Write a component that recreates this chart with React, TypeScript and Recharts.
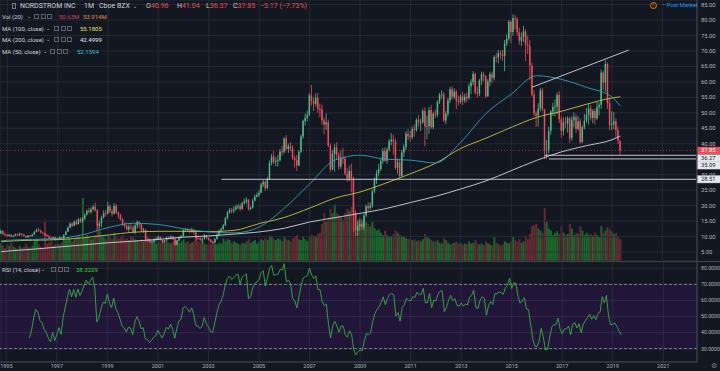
import React from "react";
import {
  ComposedChart, Bar, Line, XAxis, YAxis, CartesianGrid,
  ReferenceLine, ReferenceArea, Cell,
} from "recharts";

// ---- palette (TradingView dark) ----
const BG = "#131722";
const GRID = "#2a2e39";
const UP = "#53b987";
const DOWN = "#eb4d5c";
const VOL_UP = "#1d6a2c";
const VOL_DOWN = "#6b2934";
const MA50_C = "#2fa3b3";
const MA100_C = "#c4c43d";
const MA200_C = "#d1d4dc";
const RSI_C = "#3aad48";
const TXT = "#b2b5be";

const W = 720;
const AXIS_W = 23;
const MAIN_H = 261;

// monthly slots: Oct 1994 .. May 2022 (empty future space on the right)
const START_YEAR = 1994;
const START_MONTH = 9;
const N_SLOTS = 332;

// ---- monthly candles, Oct 1994 .. May 2019 ----
const firstOpen = 11.0;
const closes = [
  11.8, 10.8, 10.5,
  10.2, 10.6, 10.0, 10.3, 10.8, 10.4, 10.9, 10.6, 10.2, 9.7, 10.3, 10.1,
  10.6, 11.5, 12.2, 12.0, 11.3, 11.1, 10.5, 10.2, 9.6, 9.2, 9.8, 8.9,
  9.3, 9.8, 9.1, 10.5, 11.6, 12.9, 14.2, 13.5, 14.8, 14.0, 15.6, 14.9,
  15.8, 17.1, 18.3, 17.9, 18.8, 19.6, 18.5, 13.5, 14.3, 16.2, 17.6, 17.4,
  19.8, 18.2, 17.4, 19.9, 17.8, 17.0, 15.6, 13.9, 13.4, 12.3, 13.2, 13.0,
  11.4, 13.6, 14.8, 13.9, 12.0, 12.2, 9.2, 9.0, 8.1, 8.4, 8.9, 9.1,
  9.9, 9.0, 8.2, 8.8, 9.7, 9.3, 10.0, 9.1, 7.3, 8.7, 9.8, 10.1,
  12.1, 12.3, 12.0, 11.5, 12.2, 11.3, 9.5, 9.4, 9.0, 9.3, 10.4, 9.5,
  9.0, 8.2, 8.1, 9.2, 10.5, 11.8, 12.4, 13.6, 15.9, 17.8, 18.6, 18.2,
  18.8, 19.6, 19.9, 18.9, 20.8, 21.3, 21.9, 18.9, 19.3, 21.6, 22.9, 23.4,
  24.2, 26.8, 27.7, 25.6, 28.6, 33.8, 35.9, 34.2, 34.4, 34.7, 37.5, 37.4,
  41.7, 38.3, 39.2, 38.5, 35.3, 34.7, 33.0, 37.4, 42.3, 47.3, 48.4, 49.3,
  55.6, 53.8, 52.9, 54.9, 51.2, 51.1, 47.6, 46.2, 46.9, 39.4, 31.7, 36.7,
  38.8, 36.3, 32.6, 35.3, 35.2, 30.3, 28.7, 31.2, 28.8, 17.6, 12.0, 13.3,
  14.0, 13.1, 16.8, 19.8, 19.2, 19.9, 24.6, 28.3, 30.5, 31.8, 34.4, 37.6,
  34.5, 38.1, 40.8, 41.3, 40.8, 32.2, 34.0, 29.6, 37.2, 38.9, 43.2, 42.4,
  42.1, 44.7, 44.4, 47.7, 46.9, 46.9, 50.6, 45.6, 45.7, 50.9, 45.3, 49.7,
  49.4, 53.6, 55.7, 55.9, 47.5, 49.7, 54.0, 57.6, 55.2, 56.8, 53.9, 53.5,
  55.3, 54.0, 55.2, 54.8, 58.6, 59.9, 62.6, 56.5, 56.2, 60.4, 62.4, 61.8,
  55.3, 60.1, 62.5, 61.3, 68.0, 67.9, 69.2, 68.9, 68.4, 72.3, 74.0, 79.4,
  76.1, 80.6, 80.3, 76.0, 73.3, 74.5, 76.3, 72.0, 71.7, 65.2, 55.9, 49.8,
  49.1, 51.4, 57.2, 51.1, 37.9, 38.1, 44.2, 50.4, 51.9, 52.0, 55.8, 47.9,
  44.2, 46.9, 46.6, 48.3, 41.8, 47.8, 48.6, 44.8, 47.2, 40.5, 45.4, 47.4,
  49.3, 51.4, 48.4, 50.6, 48.2, 51.8, 52.6, 63.0, 59.8, 65.8, 53.1, 46.1,
  46.4, 47.3, 44.4, 41.02, 37.85,
];
const highs = [
  12.3, 12.0, 11.2,
  10.9, 10.8, 10.7, 10.5, 11.0, 11.0, 11.3, 11.1, 10.9, 10.4, 10.5, 10.6,
  10.9, 11.8, 12.6, 12.8, 12.2, 11.6, 11.3, 10.8, 10.4, 9.8, 10.0, 10.0,
  9.6, 10.1, 10.0, 10.8, 11.9, 13.3, 14.6, 14.5, 15.2, 15.4, 16.0, 16.2,
  16.3, 17.5, 18.8, 19.3, 19.4, 20.2, 21.0, 18.9, 15.2, 16.8, 18.5, 18.6,
  21.2, 20.3, 19.0, 20.8, 20.5, 18.2, 17.4, 16.0, 14.6, 13.9, 13.9, 14.5,
  13.5, 14.3, 15.2, 15.0, 14.1, 12.8, 12.4, 9.8, 9.4, 8.9, 9.5, 9.9,
  10.3, 10.0, 9.1, 9.0, 10.0, 10.1, 10.4, 10.2, 9.4, 8.9, 10.1, 10.6,
  12.4, 12.7, 12.8, 12.5, 12.9, 12.4, 11.5, 10.2, 9.8, 9.6, 10.8, 10.5,
  9.8, 9.2, 8.6, 9.5, 10.9, 12.2, 12.9, 14.0, 16.4, 18.3, 19.3, 19.2,
  19.8, 20.3, 20.5, 20.6, 21.3, 22.3, 22.7, 22.1, 19.8, 22.2, 23.6, 24.2,
  25.0, 27.4, 28.3, 28.1, 29.3, 34.6, 36.7, 37.6, 35.6, 36.4, 38.3, 39.2,
  42.1, 42.8, 40.1, 40.6, 39.5, 36.2, 36.4, 38.0, 43.0, 47.8, 49.8, 50.8,
  56.4, 59.0, 55.0, 56.3, 56.5, 53.0, 52.7, 48.5, 49.8, 47.8, 40.1, 37.9,
  39.9, 40.5, 37.2, 37.9, 38.7, 35.8, 32.1, 33.0, 33.6, 29.4, 18.5, 14.9,
  15.6, 15.5, 17.5, 20.4, 21.2, 21.0, 25.2, 29.0, 31.5, 33.5, 35.2, 38.6,
  38.9, 38.8, 41.5, 43.4, 43.0, 41.7, 35.3, 35.2, 38.0, 39.8, 44.0, 44.8,
  44.1, 45.6, 46.3, 48.2, 49.3, 48.1, 51.4, 51.8, 49.1, 51.9, 52.6, 50.4,
  51.1, 54.0, 56.4, 57.3, 56.7, 50.6, 54.8, 58.4, 58.6, 58.0, 57.3, 55.6,
  56.0, 56.8, 56.2, 56.6, 59.5, 60.9, 63.5, 62.9, 58.4, 61.0, 63.3, 63.2,
  62.2, 60.9, 63.1, 63.4, 68.6, 69.3, 70.3, 70.1, 70.3, 73.6, 75.4, 80.0,
  79.9, 81.8, 81.5, 80.9, 77.5, 76.0, 78.1, 77.0, 74.9, 73.6, 66.2, 57.3,
  50.5, 53.1, 58.1, 58.0, 51.3, 41.3, 45.5, 50.9, 53.3, 54.3, 56.6, 57.0,
  48.8, 48.5, 48.6, 48.9, 48.7, 49.0, 50.1, 49.5, 49.0, 48.1, 45.9, 49.7,
  51.6, 53.0, 52.5, 51.2, 51.4, 53.5, 53.4, 64.0, 63.6, 67.0, 66.3, 54.8,
  50.5, 50.2, 48.3, 45.6, 41.04,
];
const lows = [
  10.8, 10.5, 10.2,
  9.9, 10.0, 9.8, 9.7, 10.1, 10.2, 10.3, 10.3, 10.0, 9.5, 9.6, 9.8,
  9.9, 10.5, 11.3, 11.6, 11.0, 10.8, 10.0, 9.9, 9.3, 8.9, 9.0, 8.7,
  8.8, 9.1, 8.9, 9.0, 10.4, 11.5, 12.7, 13.0, 13.3, 13.6, 13.9, 14.4,
  14.5, 15.4, 16.8, 17.5, 17.4, 18.4, 18.0, 12.0, 12.4, 13.0, 15.8, 16.5,
  17.2, 17.6, 16.5, 17.2, 17.3, 15.8, 15.2, 13.5, 12.8, 11.9, 11.5, 12.1,
  11.0, 10.8, 12.5, 12.8, 11.5, 11.2, 8.3, 8.2, 7.9, 7.8, 8.0, 8.5,
  8.9, 8.7, 7.9, 7.8, 8.6, 9.0, 9.1, 8.9, 7.0, 7.2, 8.5, 9.4,
  9.9, 11.5, 11.6, 11.0, 11.3, 10.6, 8.5, 8.9, 8.4, 7.8, 9.0, 9.1,
  8.6, 7.9, 7.6, 7.9, 9.0, 10.3, 11.4, 12.2, 13.4, 15.6, 17.4, 17.5,
  17.6, 18.5, 18.9, 18.2, 18.6, 20.4, 20.6, 18.4, 18.5, 19.1, 21.4, 22.6,
  22.9, 24.0, 26.0, 24.8, 25.3, 28.3, 33.0, 33.5, 32.8, 32.6, 34.2, 36.1,
  36.8, 37.9, 37.0, 37.6, 34.8, 32.3, 31.2, 32.8, 37.0, 41.6, 45.9, 47.2,
  49.0, 52.3, 50.6, 52.1, 50.0, 48.5, 46.2, 43.0, 44.5, 38.9, 30.8, 31.5,
  31.0, 34.9, 31.5, 31.9, 33.5, 29.8, 27.6, 27.9, 24.3, 11.4, 10.1, 10.2,
  11.9, 12.2, 12.1, 16.2, 18.0, 18.6, 19.3, 24.0, 27.0, 29.4, 31.2, 33.5,
  34.2, 33.5, 37.5, 39.5, 36.5, 31.6, 30.3, 28.8, 29.3, 35.8, 38.0, 41.2,
  40.6, 41.5, 42.3, 43.9, 45.5, 44.1, 46.5, 39.2, 41.5, 43.2, 44.8, 44.6,
  48.3, 48.6, 52.8, 54.5, 47.0, 46.3, 48.8, 53.1, 54.2, 54.5, 51.1, 52.4,
  52.9, 52.5, 53.2, 53.4, 54.2, 56.0, 59.0, 55.9, 54.9, 55.4, 59.0, 60.1,
  54.9, 55.5, 58.6, 59.5, 60.5, 66.3, 66.0, 67.4, 66.8, 63.5, 71.6, 73.4,
  72.5, 75.0, 77.0, 74.9, 72.0, 71.6, 72.9, 66.7, 69.0, 60.7, 55.3, 48.9,
  45.4, 45.6, 50.4, 50.5, 35.0, 35.1, 36.9, 42.9, 49.0, 48.9, 49.6, 46.7,
  42.0, 42.7, 45.0, 43.6, 40.3, 41.0, 45.3, 43.5, 44.3, 40.0, 40.2, 44.6,
  46.8, 46.1, 47.6, 46.6, 46.2, 47.7, 49.2, 51.3, 57.4, 56.8, 51.2, 44.4,
  44.4, 44.7, 42.0, 39.9, 36.37,
];
// monthly volume, millions of shares
const volumes = [
  40, 35, 30,
  38, 35, 42, 33, 30, 28, 35, 30, 33, 40, 32, 30,
  35, 45, 50, 38, 33, 30, 90, 40, 42, 45, 35, 40,
  40, 38, 42, 48, 50, 55, 52, 45, 50, 55, 60, 50,
  145, 55, 60, 58, 50, 52, 60, 85, 70, 60, 55, 50,
  60, 55, 50, 65, 58, 52, 55, 60, 50, 52, 48, 55,
  55, 50, 48, 45, 50, 45, 60, 50, 45, 42, 45, 40,
  45, 42, 48, 40, 45, 42, 40, 45, 55, 48, 42, 45,
  50, 42, 45, 40, 42, 45, 55, 45, 42, 48, 40, 38,
  40, 38, 45, 40, 38, 42, 40, 52, 45, 50, 48, 40,
  45, 42, 40, 38, 42, 40, 45, 50, 42, 45, 48, 40,
  45, 50, 48, 52, 48, 58, 55, 50, 48, 52, 50, 45,
  55, 50, 48, 45, 52, 55, 60, 50, 48, 55, 50, 45,
  55, 60, 58, 55, 62, 65, 85, 110, 90, 100, 120, 110,
  130, 110, 105, 100, 95, 110, 120, 115, 125, 135, 110, 95,
  100, 90, 95, 90, 85, 80, 90, 75, 70, 72, 65, 60,
  70, 60, 55, 58, 62, 70, 65, 60, 58, 55, 52, 50,
  52, 48, 50, 45, 48, 45, 50, 62, 55, 52, 48, 45,
  45, 48, 42, 40, 52, 48, 42, 38, 40, 42, 45, 40,
  42, 38, 40, 38, 45, 40, 42, 48, 40, 38, 40, 36,
  45, 40, 38, 36, 55, 42, 38, 36, 38, 45, 42, 40,
  45, 55, 48, 45, 50, 42, 45, 58, 50, 62, 80, 82,
  85, 75, 70, 65, 122, 90, 75, 70, 60, 65, 68, 62,
  80, 65, 60, 62, 85, 75, 60, 65, 62, 80, 70, 60,
  65, 60, 62, 58, 65, 60, 55, 80, 65, 70, 78, 72,
  68, 62, 65, 55, 50.63,
];

// moving averages
const maDates = [
  "1994-10", "1995-01", "1996-01", "1997-01", "1998-01", "1999-01", "2000-01",
  "2001-01", "2002-01", "2003-01", "2004-01", "2005-01", "2006-01", "2007-01",
  "2008-01", "2009-01", "2010-01", "2011-01", "2012-01", "2013-01", "2014-01",
  "2015-01", "2016-01", "2017-01", "2018-01", "2019-01", "2019-05",
];
const ma50Vals = [
  8.6, 8.8, 9.1, 9.4, 10.6, 12.9, 14.3, 13.9, 12.5, 11.5, 11.2, 13.1, 19.2, 27.0,
  34.7, 36.3, 35.0, 34.7, 33.8, 40.5, 49.8, 56.0, 62.0, 60.8, 58.2, 55.1, 52.16,
];
const ma100Vals = [
  8.3, 8.5, 8.8, 9.0, 9.6, 10.5, 11.4, 11.7, 11.7, 11.6, 12.0, 14.2, 16.2, 19.2,
  22.4, 24.4, 27.2, 30.3, 33.7, 38.5, 41.8, 45.3, 48.5, 50.5, 52.8, 54.8, 55.18,
];
const ma200Vals = [
  5.1, 5.3, 5.9, 6.6, 7.3, 8.0, 8.5, 9.1, 9.8, 10.2, 10.8, 11.5, 12.7, 14.7,
  16.1, 17.5, 19.0, 21.0, 23.0, 25.4, 28.0, 31.3, 34.6, 37.4, 39.4, 41.3, 42.5,
];

const yearTicks = [
  "1995-01", "1997-01", "1999-01", "2001-01", "2003-01", "2005-01", "2007-01",
  "2009-01", "2011-01", "2013-01", "2015-01", "2017-01", "2019-01", "2021-01",
];
const priceTicks = [5, 10, 15, 20, 25, 30, 40, 45, 50, 55, 60, 65, 70, 75, 80, 85];
const rsiTicks = [30, 40, 50, 60, 70, 80];

// RSI(14) on the monthly closes, Wilder smoothing
function rsi14(cl: number[]) {
  const out: (number | null)[] = cl.map(() => null);
  let g = 0, l = 0;
  for (let i = 1; i <= 14; i++) {
    const d = cl[i] - cl[i - 1];
    g += Math.max(d, 0); l += Math.max(-d, 0);
  }
  g /= 14; l /= 14;
  out[14] = 100 - 100 / (1 + g / l);
  for (let i = 15; i < cl.length; i++) {
    const d = cl[i] - cl[i - 1];
    g = (g * 13 + Math.max(d, 0)) / 14;
    l = (l * 13 + Math.max(-d, 0)) / 14;
    out[i] = l === 0 ? 100 : 100 - 100 / (1 + g / l);
  }
  return out;
}

const months = Array.from({ length: N_SLOTS }, (_, i) => {
  const m = START_MONTH + i;
  return `${START_YEAR + Math.floor(m / 12)}-${String((m % 12) + 1).padStart(2, "0")}`;
});
const rsiVals = rsi14(closes);
const maIndex = new Map(maDates.map((d, k) => [d, k]));

const data = months.map((t, i) => {
  const row: any = { t };
  if (i < closes.length) {
    const o = i === 0 ? firstOpen : closes[i - 1];
    const c = closes[i];
    const h = Math.max(highs[i], o, c);
    const l = Math.min(lows[i], o, c);
    Object.assign(row, { o, h, l, c, range: [l, h], vol: volumes[i], up: c >= o, rsi: rsiVals[i] });
  }
  const k = maIndex.get(t);
  if (k !== undefined) {
    row.ma50 = ma50Vals[k];
    row.ma100 = ma100Vals[k];
    row.ma200 = ma200Vals[k];
  }
  return row;
});
const lastSlot = months[N_SLOTS - 1];

// eslint-disable-next-line @typescript-eslint/no-explicit-any
function Candle(props: any) {
  const { x, y, width, height, payload } = props;
  if (!payload || payload.h == null) return null;
  const { o, h, l, c } = payload;
  const top = height < 0 ? y + height : y;
  const hh = Math.abs(height);
  const ppu = hh / Math.max(h - l, 1e-6);
  const bTop = top + (h - Math.max(o, c)) * ppu;
  const bBot = top + (h - Math.min(o, c)) * ppu;
  const color = c >= o ? UP : DOWN;
  const cx = x + width / 2;
  return (
    <g>
      <line x1={cx} x2={cx} y1={top} y2={top + hh} stroke={color} strokeWidth={0.8} />
      <rect x={x} y={bTop} width={width} height={Math.max(bBot - bTop, 0.8)} fill={color} />
    </g>
  );
}

// eslint-disable-next-line @typescript-eslint/no-explicit-any
function PriceTag(props: any) {
  const { viewBox, text, bg, fg, dy = 0 } = props;
  if (!viewBox) return null;
  const y = viewBox.y + dy;
  return (
    <g>
      <rect x={W - AXIS_W} y={y - 3.6} width={AXIS_W} height={7.2} fill={bg} stroke={fg === "#fff" ? "none" : "#d1d4dc"} strokeWidth={0.5} />
      <text x={W - AXIS_W + 4} y={y + 2} fontSize={5.8} fill={fg}>{text}</text>
    </g>
  );
}

function Boxes({ x }: { x: number }) {
  return (
    <span style={{ position: "absolute", left: x, top: 1, display: "flex", gap: 1.5 }}>
      {[0, 1, 2].map((k) => (
        <span key={k} style={{ width: 5, height: 5, border: "1px solid #5d606b", boxSizing: "border-box", display: "inline-block" }} />
      ))}
    </span>
  );
}

function LegendRow({ top, label, chev, boxes, value, color, x }: {
  top: number; label: string; chev: number; boxes: number; value: string; color: string; x: number;
}) {
  return (
    <div style={{ position: "absolute", left: 0, top, height: 8, width: 200, fontSize: 6, lineHeight: "7px", color: "#d1d4dc" }}>
      <span style={{ position: "absolute", left: 2 }}>{label}</span>
      <span style={{ position: "absolute", left: chev, fontSize: 5 }}>⌄</span>
      <Boxes x={boxes} />
      <span style={{ position: "absolute", left: x, color }}>{value}</span>
    </div>
  );
}

export default function App() {
  const xAxisHidden = (
    <XAxis dataKey="t" hide ticks={yearTicks} interval={0} />
  );
  return (
    <div style={{
      position: "fixed", left: 0, top: 0, width: W, height: 371, background: BG,
      overflow: "hidden", fontFamily: "Roboto, 'Open Sans', sans-serif",
    }}>
      {/* volume layer */}
      <div style={{ position: "absolute", left: 0, top: 0 }}>
        <ComposedChart width={W} height={MAIN_H} data={data} margin={{ top: 0, right: AXIS_W, bottom: 0, left: 0 }}>
          {xAxisHidden}
          <YAxis yAxisId="v" hide domain={[0, 600]} />
          <Bar yAxisId="v" dataKey="vol" barSize={1.9} isAnimationActive={false}>
            {data.map((d, i) => (
              <Cell key={i} fill={d.up ? VOL_UP : VOL_DOWN} />
            ))}
          </Bar>
        </ComposedChart>
      </div>

      {/* price layer */}
      <div style={{ position: "absolute", left: 0, top: 0 }}>
        <ComposedChart width={W} height={MAIN_H} data={data} margin={{ top: 0, right: 0, bottom: 0, left: 0 }}>
          <CartesianGrid stroke={GRID} strokeWidth={0.8} />
          {xAxisHidden}
          <YAxis
            orientation="right" width={AXIS_W} domain={[2.1, 86.47]} allowDataOverflow
            ticks={priceTicks} interval={0} tickFormatter={(v: number) => v.toFixed(2)}
            tickLine={false} tickSize={0} tickMargin={4}
            axisLine={{ stroke: "#434651" }} tick={{ fontSize: 5.8, fill: TXT }}
          />
          <Bar dataKey="range" barSize={1.5} shape={Candle} activeBar={false} isAnimationActive={false} />
          <Line dataKey="ma100" stroke={MA100_C} strokeWidth={0.9} dot={false} activeDot={false} type="monotone" connectNulls isAnimationActive={false} />
          <Line dataKey="ma200" stroke={MA200_C} strokeWidth={0.9} dot={false} activeDot={false} type="monotone" connectNulls isAnimationActive={false} />
          <Line dataKey="ma50" stroke={MA50_C} strokeWidth={0.9} dot={false} activeDot={false} type="monotone" connectNulls isAnimationActive={false} />
          <ReferenceLine
            segment={[{ x: "2015-11", y: 58.3 }, { x: "2019-09", y: 70.3 }]}
            stroke="#d1d4dc" strokeWidth={0.9}
          />
          <ReferenceLine
            segment={[{ x: "2003-07", y: 28.51 }, { x: lastSlot, y: 28.51 }]}
            stroke="#d1d4dc" strokeWidth={0.9}
            label={<PriceTag text="28.51" bg="#e8e9ec" fg="#131722" />}
          />
          <ReferenceLine
            segment={[{ x: "2016-05", y: 36.27 }, { x: lastSlot, y: 36.27 }]}
            stroke="#d1d4dc" strokeWidth={0.9}
            label={<PriceTag text="36.27" bg="#e8e9ec" fg="#131722" dy={3} />}
          />
          <ReferenceLine
            segment={[{ x: "2016-07", y: 35.09 }, { x: lastSlot, y: 35.09 }]}
            stroke="#d1d4dc" strokeWidth={0.9}
            label={<PriceTag text="35.09" bg="#e8e9ec" fg="#131722" dy={6.5} />}
          />
          <ReferenceLine
            y={37.85} stroke={DOWN} strokeOpacity={0.8} strokeDasharray="1 2" strokeWidth={0.8}
            label={<PriceTag text="37.85" bg={DOWN} fg="#fff" />}
          />
        </ComposedChart>
      </div>

      {/* pane separator */}
      <div style={{ position: "absolute", left: 0, top: MAIN_H, width: W, height: 1, background: "#434651" }} />

      {/* RSI pane + time axis */}
      <div style={{ position: "absolute", left: 0, top: MAIN_H }}>
        <ComposedChart width={W} height={110} data={data} margin={{ top: 1, right: 0, bottom: 0, left: 0 }}>
          <CartesianGrid stroke={GRID} strokeWidth={0.8} />
          <XAxis
            dataKey="t" ticks={yearTicks} interval={0} height={9}
            tickFormatter={(v: string) => v.slice(0, 4)}
            tickLine={false} tickSize={0} tickMargin={2}
            axisLine={{ stroke: "#434651" }} tick={{ fontSize: 5.5, fill: TXT }}
          />
          <YAxis
            orientation="right" width={AXIS_W} domain={[21.7, 83.9]} allowDataOverflow
            ticks={rsiTicks} interval={0} tickFormatter={(v: number) => v.toFixed(4)}
            tickLine={false} tickSize={0} tickMargin={4}
            axisLine={{ stroke: "#434651" }} tick={{ fontSize: 5.2, fill: TXT }}
          />
          <ReferenceArea y1={30} y2={70} fill="#9915ff" fillOpacity={0.1} stroke="none" />
          <ReferenceLine y={70} stroke="#9598a1" strokeDasharray="3 2" strokeWidth={0.8} />
          <ReferenceLine y={30} stroke="#9598a1" strokeDasharray="3 2" strokeWidth={0.8} />
          <Line dataKey="rsi" stroke={RSI_C} strokeWidth={0.9} dot={false} activeDot={false} isAnimationActive={false} />
        </ComposedChart>
      </div>

      {/* legends */}
      <div style={{ position: "absolute", left: 0, top: 2, height: 9, width: 320, fontSize: 7, lineHeight: "8px", color: "#d1d4dc" }}>
        <span style={{ position: "absolute", left: 12, top: 1, width: 4, height: 6, border: "1px solid #787b86", boxSizing: "border-box" }} />
        <span style={{ position: "absolute", left: 20 }}>NORDSTROM INC</span>
        <span style={{ position: "absolute", left: 84 }}>1M</span>
        <span style={{ position: "absolute", left: 99 }}>Cboe BZX</span>
        <span style={{ position: "absolute", left: 133, fontSize: 5 }}>⌄</span>
        <span style={{ position: "absolute", left: 146 }}>O<span style={{ color: DOWN }}>40.96</span></span>
        <span style={{ position: "absolute", left: 177 }}>H<span style={{ color: DOWN }}>41.04</span></span>
        <span style={{ position: "absolute", left: 206 }}>L<span style={{ color: DOWN }}>36.37</span></span>
        <span style={{ position: "absolute", left: 233 }}>C<span style={{ color: DOWN }}>37.85</span></span>
        <span style={{ position: "absolute", left: 260, color: DOWN }}>−3.17 (−7.73%)</span>
      </div>
      <div style={{ position: "absolute", left: 0, top: 13, height: 8, width: 200, fontSize: 6, lineHeight: "7px", color: "#d1d4dc" }}>
        <span style={{ position: "absolute", left: 2 }}>Vol (20)</span>
        <span style={{ position: "absolute", left: 27, fontSize: 5 }}>⌄</span>
        <Boxes x={34} />
        <span style={{ position: "absolute", left: 59, color: "#c6455a" }}>50.63M</span>
        <span style={{ position: "absolute", left: 83, color: "#e0913c" }}>53.914M</span>
      </div>
      <LegendRow top={24.5} label="MA (100, close)" chev={46} boxes={54} value="55.1805" color="#e6e64a" x={80} />
      <LegendRow top={36} label="MA (200, close)" chev={46} boxes={54} value="42.4999" color="#e8e9ec" x={80} />
      <LegendRow top={47.5} label="MA (50, close)" chev={43} boxes={50} value="52.1594" color="#3cc0d4" x={77} />
      <LegendRow top={265.5} label="RSI (14, close)" chev={41} boxes={51} value="38.3229" color="#3fd03f" x={76} />

      {/* top-right badges */}
      <div style={{ position: "absolute", left: 650, top: 2, width: 7, height: 7, borderRadius: 4, border: "1px solid #f57c00", boxSizing: "border-box", color: "#f57c00", fontSize: 5, lineHeight: "5px", textAlign: "center" }}>!</div>
      <div style={{ position: "absolute", left: 663, top: 2, fontSize: 5.8, lineHeight: "7px", color: "#2196f3" }}>• Post Market</div>
      <div style={{ position: "absolute", left: 711, top: 362, fontSize: 7, color: "#787b86" }}>⚙</div>
    </div>
  );
}
